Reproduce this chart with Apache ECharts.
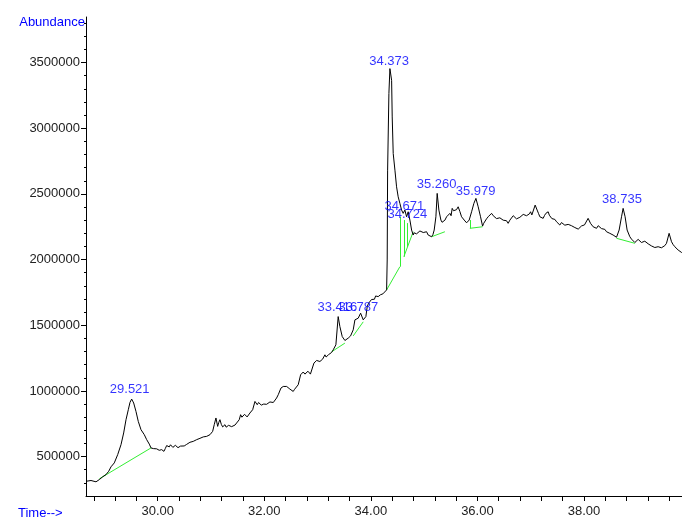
<!DOCTYPE html>
<html>
<head>
<meta charset="utf-8">
<script src="https://cdn.jsdelivr.net/npm/echarts@6/dist/echarts.min.js"></script>
<style>
  html, body { margin: 0; padding: 0; background: #fff; }
  #tic { width: 682px; height: 518px; }
</style>
</head>
<body>
<div id="tic"></div>
<script>
// retention time, min
var times = [28.654,28.748,28.842,28.904,28.967,29.029,29.080,29.123,29.185,29.249,29.311,29.361,29.405,29.448,29.480,29.511,29.549,29.592,29.635,29.686,29.748,29.793,29.842,
  29.874,29.918,29.981,30.028,30.074,30.096,30.117,30.143,30.168,30.193,
  30.217,30.240,30.262,30.284,30.305,30.331,30.356,30.381,30.405,30.428,
  30.450,30.497,30.543,30.574,30.605,30.636,30.667,30.699,30.731,30.762,
  30.793,30.824,30.855,30.887,30.919,30.950,30.981,31.031,31.061,31.093,
  31.125,31.146,31.168,31.194,31.219,31.240,31.262,31.284,31.305,31.330,
  31.356,31.387,31.418,31.450,31.481,31.530,31.556,31.580,31.605,31.630,
  31.656,31.678,31.699,31.731,31.782,31.825,31.868,31.893,31.919,31.944,
  31.969,31.990,32.012,32.043,32.074,32.106,32.138,32.169,32.200,32.231,
  32.262,32.313,32.356,32.388,32.420,32.450,32.481,32.512,32.543,32.568,
  32.594,32.637,32.682,32.731,32.763,32.795,32.820,32.843,32.866,32.889,
  32.932,32.958,32.983,33.014,33.044,33.070,33.095,33.138,33.160,33.181,
  33.206,33.232,
  33.264,33.294,33.344,33.387,33.419,33.463,33.513,33.545,33.575,33.598,
  33.620,33.669,33.701,33.730,33.763,33.808,33.857,33.907,33.932,33.958,
  33.983,34.013,34.044,34.067,34.090,34.114,34.138,34.180,34.226,34.260,
  34.296,
  34.307,34.315,34.339,34.358,34.390,34.401,34.420,34.452,34.483,34.513,34.545,34.577,34.607,34.639,34.671,34.701,34.733,34.765,34.795,
  34.811,34.827,34.858,34.889,34.921,34.953,34.984,35.015,35.046,35.076,
  35.108,35.140,35.165,35.189,35.221,35.245,35.277,35.315,35.337,35.358,
  35.390,35.422,35.453,35.484,35.506,35.527,35.552,35.577,35.608,35.639,
  35.671,35.703,35.728,35.752,35.775,35.797,35.822,35.846,35.891,35.934,
  35.972,36.015,36.059,36.097,36.118,36.140,36.171,36.202,36.234,36.266,
  36.297,36.328,36.359,36.390,36.421,36.453,36.484,36.515,36.546,36.577,
  36.609,36.641,36.672,36.703,36.734,36.765,36.797,36.829,36.860,36.891,
  36.922,36.953,36.976,36.998,37.022,37.046,37.084,37.121,37.146,37.172,
  37.203,37.234,37.260,37.285,37.306,37.328,37.350,37.373,37.398,37.422,
  37.454,37.485,37.516,37.547,37.578,37.609,37.641,37.673,37.704,37.735,
  37.766,37.797,37.829,37.861,37.892,37.922,37.954,37.985,38.010,38.035,
  38.078,38.123,38.148,38.172,38.204,38.236,38.267,38.298,38.329,38.360,
  38.392,38.423,38.454,38.485,38.516,38.547,38.579,38.611,38.660,38.705,
  38.735,38.772,38.810,38.861,38.892,38.923,38.955,38.986,39.017,39.048,
  39.079,39.110,39.142,39.174,39.205,39.236,39.267,39.298,39.330,39.361,
  39.392,39.423,39.454,39.485,39.517,39.549,39.598,39.643,39.674,39.705,
  39.736,39.767,39.800,39.836];
// abundance, thousands
var abundanceK = [312,318,308,325,346,363,388,422,452,515,591,680,781,857,913,938,908,844,768,705,667,629,595,
  566,561,559,548,553,558,540,562,584,570,
  574,590,589,570,574,586,584,568,563,580,
  578,581,593,596,609,606,616,628,629,631,
  639,652,650,648,654,669,667,692,743,794,
  730,760,781,745,726,740,743,724,718,738,
  730,728,743,740,756,781,819,800,806,822,
  819,802,806,832,857,920,895,912,908,892,
  888,900,908,898,903,916,920,912,920,946,
  971,1022,1034,1040,1034,1020,1014,1004,996,1012,
  1022,1047,1123,1144,1128,1136,1150,1141,1128,1123,
  1212,1220,1232,1218,1224,1236,1242,1275,1258,1262,
  1276,1288,
  1293,1313,1351,1566,1490,1414,1384,1396,1402,1394,
  1419,1465,1541,1546,1554,1592,1541,1566,1642,1668,
  1680,1696,1706,1698,1723,1712,1718,1732,1739,1752,
  1769,
  1997,2681,3264,3454,3365,3086,2808,2681,2554,2478,2428,2377,2352,2377,2326,2364,2301,2225,2187,
  2204,2212,2196,2200,2218,2225,2206,2200,2212,2187,
  2196,2174,2190,2225,2326,2504,2377,2301,2284,2276,
  2300,2326,2338,2352,2334,2390,2372,2364,2380,2402,
  2366,2326,2314,2301,2290,2280,2294,2301,2364,2428,
  2466,2402,2326,2255,2276,2288,2310,2326,2340,2352,
  2334,2326,2312,2301,2318,2326,2300,2288,2296,2276,
  2300,2314,2334,2326,2310,2301,2322,2326,2344,2352,
  2334,2326,2348,2364,2340,2352,2415,2377,2352,2326,
  2334,2314,2336,2352,2340,2364,2338,2326,2312,2301,
  2306,2288,2280,2263,2282,2276,2262,2250,2268,2276,
  2258,2263,2244,2250,2232,2238,2256,2250,2264,2276,
  2314,2276,2262,2250,2244,2238,2258,2250,2236,2225,
  2230,2212,2218,2200,2196,2187,2180,2170,2225,2326,
  2390,2326,2225,2174,2156,2149,2130,2136,2154,2149,
  2130,2124,2140,2136,2120,2111,2104,2098,2092,2086,
  2098,2086,2090,2098,2106,2124,2200,2136,2114,2098,
  2086,2073,2064,2053];

// peak labels (RT text) and the apex they sit on
var peakNames = ['29.521', '33.416', '33.787', '34.373', '34.671', '34.724', '35.260', '35.979', '38.735'];
var peakRT = [29.474, 33.372, 33.766, 34.342, 34.630, 34.686, 35.234, 35.967, 38.714];
var peakTopK = [928, 1556, 1556, 3426, 2327, 2267, 2489, 2438, 2377];

// integration baselines / drop lines, from (t, v) to (t, v), v in thousands
var baseFromT = [28.904, 33.264, 33.669, 34.296, 34.545, 34.620, 34.682, 34.620, 35.140, 35.858, 35.858, 38.611];
var baseFromK = [331, 1298, 1419, 1769, 1946, 2022, 2096, 2022, 2174, 2301, 2238, 2162];
var baseToT = [29.874, 33.513, 33.857, 34.545, 34.545, 34.620, 34.682, 34.795, 35.390, 35.858, 36.097, 38.955];
var baseToK = [566, 1364, 1526, 1946, 2326, 2301, 2278, 2212, 2212, 2238, 2250, 2124];

// axis ticks
var xLabelTicks = [30, 32, 34, 36, 38];
var xMinorTicks = [28.8, 29.2, 29.6, 30.0, 30.4, 30.8, 31.2, 31.6, 32.0, 32.4, 32.8, 33.2, 33.6, 34.0, 34.4, 34.8, 35.2, 35.6, 36.0, 36.4, 36.8, 37.2, 37.6, 38.0, 38.4, 38.8, 39.2, 39.6];
var yLabelTicks = [500000, 1000000, 1500000, 2000000, 2500000, 3000000, 3500000];
var yMinorTicks = [300000, 400000, 500000, 600000, 700000, 800000, 900000, 1000000, 1100000, 1200000, 1300000, 1400000, 1500000, 1600000, 1700000, 1800000, 1900000, 2000000, 2100000, 2200000, 2300000, 2400000, 2500000, 2600000, 2700000, 2800000, 2900000, 3000000, 3100000, 3200000, 3300000, 3400000, 3500000, 3600000, 3700000, 3800000];

var chart = echarts.init(document.getElementById('tic'));

var trace = times.map(function (t, i) { return [t, abundanceK[i] * 1000]; });
var peaks = peakRT.map(function (t, i) { return [t, peakTopK[i] * 1000]; });
var baselines = baseFromT.map(function (t, i) {
  return { coords: [[t, baseFromK[i] * 1000], [baseToT[i], baseToK[i] * 1000]] };
});

var font = '"Liberation Sans", Arial, sans-serif';
var blue = '#0000ff';

var option = {
  animation: false,
  backgroundColor: '#fff',
  grid: { left: 86, right: 0, top: 17, bottom: 21 },
  xAxis: [{
    type: 'value',
    min: 28.654,
    max: 39.84,
    axisLine: { show: true, lineStyle: { color: '#000', width: 1 } },
    axisTick: { show: true, length: 5, customValues: xMinorTicks, lineStyle: { color: '#000' } },
    axisLabel: {
      customValues: xLabelTicks,
      margin: 9,
      color: '#222',
      fontSize: 13,
      fontFamily: font,
      formatter: function (v) { return v.toFixed(2); }
    },
    splitLine: { show: false }
  }],
  yAxis: [{
    type: 'value',
    min: 200000,
    max: 3847000,
    axisLine: { show: true, lineStyle: { color: '#000', width: 1 } },
    axisTick: { show: true, length: 5, customValues: yLabelTicks, lineStyle: { color: '#000' } },
    axisLabel: {
      customValues: yLabelTicks,
      margin: 6,
      color: '#222',
      fontSize: 13,
      fontFamily: font,
      formatter: function (v) { return String(v); }
    },
    splitLine: { show: false }
  }, {
    type: 'value',
    position: 'left',
    min: 200000,
    max: 3847000,
    axisLine: { show: false },
    axisTick: { show: true, length: 2, customValues: yMinorTicks, lineStyle: { color: '#000' } },
    axisLabel: { show: false },
    splitLine: { show: false }
  }],
  graphic: [
    { type: 'text', right: 682 - 85, top: 16, style: { text: 'Abundance', fill: blue, font: '13px ' + font, textAlign: 'right' } },
    { type: 'text', left: 18, top: 507, style: { text: 'Time-->', fill: blue, font: '13px ' + font } }
  ],
  series: [
    {
      type: 'lines',
      coordinateSystem: 'cartesian2d',
      data: baselines,
      lineStyle: { color: '#33ee33', width: 1, opacity: 1 },
      z: 3
    },
    {
      type: 'line',
      data: trace,
      symbol: 'none',
      lineStyle: { color: '#000', width: 1 },
      z: 4
    },
    {
      type: 'scatter',
      data: peaks,
      symbolSize: 0,
      label: {
        show: true,
        position: 'top',
        distance: 4,
        color: blue,
        fontSize: 13,
        fontFamily: font,
        formatter: function (p) { return peakNames[p.dataIndex]; }
      },
      z: 5
    }
  ]
};

chart.setOption(option);
</script>
</body>
</html>
